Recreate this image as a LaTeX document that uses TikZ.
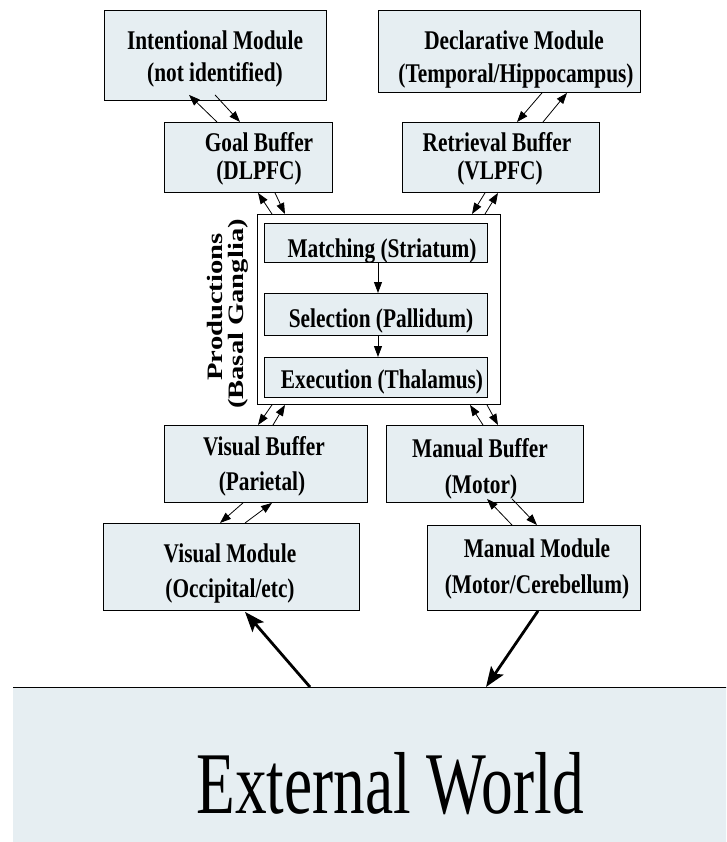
\documentclass[tikz,border=0pt]{standalone}
\usepackage{fontspec}
\setmainfont{Liberation Serif}
\newfontfamily\boxfont{Liberation Serif}[FakeStretch=0.79]
\newfontfamily\prodfont{Liberation Serif}[FakeStretch=1.3]
\newfontfamily\worldfont{Liberation Serif}[FakeStretch=0.72]
\usetikzlibrary{arrows.meta,calc}
\definecolor{boxblue}{RGB}{230,238,242}
\tikzset{
  box/.style={draw=black, line width=0.9pt, fill=boxblue, inner sep=0pt, anchor=north west},
  prodbox/.style={draw=black, line width=0.9pt, fill=white, inner sep=0pt, anchor=north west},
  lab/.style={anchor=base, inner sep=0pt, font=\boxfont\bfseries\fontsize{27}{30}\selectfont},
  prodlab/.style={rotate=90, inner sep=0pt, font=\prodfont\bfseries\fontsize{22}{26}\selectfont},
  link/.style={line width=0.8pt, -{Triangle[length=11pt,width=8pt]}},
  bigarrow/.style={line width=2.8pt, -{Stealth[length=20pt,width=15pt,inset=4pt]}},
}
\begin{document}
\begin{tikzpicture}[x=1pt,y=-1pt]
\useasboundingbox (0,0) rectangle (726,842);
\clip (0,0) rectangle (726,842);

% modules and buffers
\node[box, minimum width=222pt, minimum height=90pt] (intent) at (104,10) {};
\node[box, minimum width=262pt, minimum height=82pt] (decl) at (378,10) {};
\node[box, minimum width=168pt, minimum height=70pt] (goal) at (164,122) {};
\node[box, minimum width=197pt, minimum height=70pt] (retr) at (402,122) {};

% production system
\node[prodbox, minimum width=243pt, minimum height=190pt] (prod) at (257,214) {};
\node[box, minimum width=223pt, minimum height=39pt] (match) at (264,223) {};
\node[box, minimum width=223pt, minimum height=42pt] (sel) at (264,293) {};
\node[box, minimum width=223pt, minimum height=40pt] (exe) at (264,357) {};

\node[box, minimum width=203pt, minimum height=77pt] (vbuf) at (164,425) {};
\node[box, minimum width=197pt, minimum height=77pt] (mbuf) at (386,425) {};
\node[box, minimum width=256pt, minimum height=87pt] (vmod) at (103,523) {};
\node[box, minimum width=213pt, minimum height=85pt] (mmod) at (427,525) {};

% environment
\node[fill=boxblue, inner sep=0pt, anchor=north west, minimum width=730pt, minimum height=170pt] (world) at (13,687) {};
\draw[line width=0.9pt] (world.north west) -- (world.north east);

% texts
\node[lab] (intentA) at (215,50) {Intentional Module};
\node[lab] (intentB) at (215,82) {(not identified)};
\node[lab] (declA) at (514,50) {Declarative Module};
\node[lab] (declB) at (516,83) {(Temporal/Hippocampus)};
\node[lab] (goalA) at (259,152) {Goal Buffer};
\node[lab] (goalB) at (259,180) {(DLPFC)};
\node[lab] (retrA) at (497,152) {Retrieval Buffer};
\node[lab] (retrB) at (500,180) {(VLPFC)};
\node[lab] (matchA) at (382,257) {Matching (Striatum)};
\node[lab] (selA) at (381,327) {Selection (Pallidum)};
\node[lab] (exeA) at (382,388) {Execution (Thalamus)};
\node[lab] (vbufA) at (264,455) {Visual Buffer};
\node[lab] (vbufB) at (262,490) {(Parietal)};
\node[lab] (mbufA) at (480,457) {Manual Buffer};
\node[lab] (mbufB) at (481,493) {(Motor)};
\node[lab] (vmodA) at (230,562) {Visual Module};
\node[lab] (vmodB) at (230,597) {(Occipital/etc)};
\node[lab] (mmodA) at (537,557) {Manual Module};
\node[lab] (mmodB) at (537,593) {(Motor/Cerebellum)};
\node[prodlab] (prodA) at (215,307) {Productions};
\node[prodlab] (prodB) at (238,314) {(Basal Ganglia)};
\node[anchor=base, inner sep=0pt, font=\worldfont\fontsize{88}{90}\selectfont] (worldA) at (390,813) {External World};

% buffer traffic
\draw[link] ($(goal.north west)+(53,0)$) -- ($(intent.south west)+(85,-6)$);
\draw[link] ($(intent.south west)+(111,-6)$) -- ($(goal.north west)+(76,0)$);
\draw[link] ($(prod.north west)+(15,0)$) -- ($(goal.south west)+(94,0)$);
\draw[link] ($(goal.south west)+(111,0)$) -- ($(prod.north west)+(28,0)$);
\draw[link] ($(decl.south west)+(164,0)$) -- ($(retr.north west)+(115,0)$);
\draw[link] ($(retr.north west)+(141,0)$) -- ($(decl.south west)+(189,0)$);
\draw[link] ($(retr.south west)+(83,0)$) -- ($(prod.north west)+(215,0)$);
\draw[link] ($(prod.north west)+(228,0)$) -- ($(retr.south west)+(96,0)$);
\draw[link] ($(prod.south west)+(15,0)$) -- ($(vbuf.north west)+(94,0)$);
\draw[link] ($(vbuf.north west)+(109,0)$) -- ($(prod.south west)+(28,0)$);
\draw[link] ($(mbuf.north west)+(97,0)$) -- ($(prod.south west)+(213,0)$);
\draw[link] ($(prod.south west)+(230,0)$) -- ($(mbuf.north west)+(112,0)$);
\draw[link] ($(vbuf.south west)+(79,0)$) -- ($(vmod.north west)+(117,0)$);
\draw[link] ($(vmod.north west)+(142,0)$) -- ($(vbuf.south west)+(108,0)$);
\draw[link] ($(mmod.north west)+(85,0)$) -- ($(mbuf.south west)+(101,-4)$);
\draw[link] ($(mbuf.south west)+(126,-4)$) -- ($(mmod.north west)+(110,0)$);

% production cycle
\draw[link] ($(match.south west)+(114,0)$) -- ($(sel.north west)+(114,0)$);
\draw[link] ($(sel.south west)+(114,0)$) -- ($(exe.north west)+(114,0)$);

% perception and action
\draw[bigarrow] ($(world.north west)+(297,0)$) -- ($(vmod.south west)+(142,1)$);
\draw[bigarrow] ($(mmod.south west)+(111,0)$) -- ($(world.north west)+(473,0)$);
\end{tikzpicture}
\end{document}
